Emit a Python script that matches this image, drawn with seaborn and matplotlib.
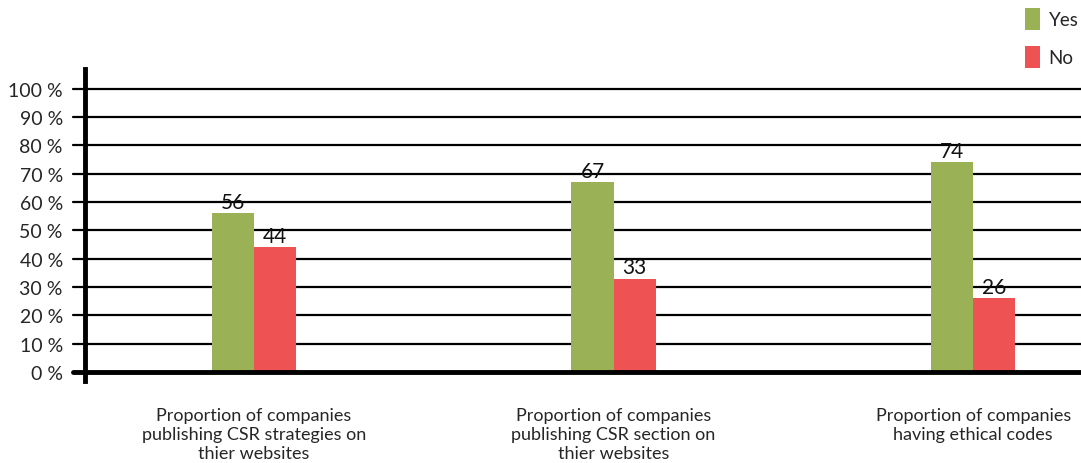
import matplotlib
matplotlib.use("Agg")
import matplotlib.pyplot as plt
import seaborn as sns
import pandas as pd
from matplotlib.patches import Patch

categories = ["Proportion of companies\npublishing CSR strategies on\nthier websites",
              "Proportion of companies\npublishing CSR section on\nthier websites",
              "Proportion of companies\nhaving ethical codes"]
yes_values = [56, 67, 74]
no_values = [44, 33, 26]
series = ["Yes", "No"]
colors = {"Yes": "#9bb155", "No": "#ef5252"}
yticks = list(range(0, 101, 10))
ytick_labels = [f"{v} %" for v in yticks]

df = pd.DataFrame({
    "category": categories * 2,
    "series": ["Yes"] * 3 + ["No"] * 3,
    "value": yes_values + no_values,
})

sns.set_style("white")
plt.rcParams["font.family"] = ["Lato", "DejaVu Sans"]

fig = plt.figure(figsize=(10.81, 4.64), dpi=100)
ax = fig.add_axes([85 / 1081, 1 - 382 / 464, (1081 - 85) / 1081, (382 - 70) / 464])

sns.barplot(data=df, x="category", y="value", hue="series", hue_order=series,
            palette=colors, width=0.234, ax=ax, legend=False, saturation=1,
            order=categories, linewidth=0)

for cont in ax.containers:
    ax.bar_label(cont, fmt="%d", padding=1, fontsize=15, color="#111111")

ax.set_ylim(-3.2, 107)
ax.set_xlim(-0.47, 2.30)
for v in yticks[1:]:
    ax.axhline(v, color="black", lw=1.6, zorder=0.5, clip_on=False,
               xmin=-12 / 996, xmax=1)
ax.axhline(0, color="black", lw=3.5, zorder=3, clip_on=False, xmin=-12 / 996, xmax=1)

ax.set_yticks(yticks)
ax.set_yticklabels(ytick_labels, fontsize=14)
ax.tick_params(axis="y", length=0, pad=16)
ax.tick_params(axis="x", length=0, pad=19)
for lbl in ax.get_xticklabels():
    lbl.set_fontsize(13)
    lbl.set_linespacing(1.2)
ax.set_xlabel("")
ax.set_ylabel("")
for s in ["top", "right", "bottom"]:
    ax.spines[s].set_visible(False)
ax.spines["left"].set_linewidth(3.5)
ax.spines["left"].set_color("black")
ax.spines["left"].set_zorder(4)

handles = [Patch(facecolor=colors[s], edgecolor="none", label=s) for s in series]
fig.legend(handles=handles, loc="upper left", bbox_to_anchor=(1014 / 1081, 1.005),
           frameon=False, fontsize=13.5, handlelength=0.8, handleheight=1.45,
           labelspacing=0.85, handletextpad=0.45, borderaxespad=0.3,
           borderpad=0.3)

fig.savefig("out.png", dpi=100)
